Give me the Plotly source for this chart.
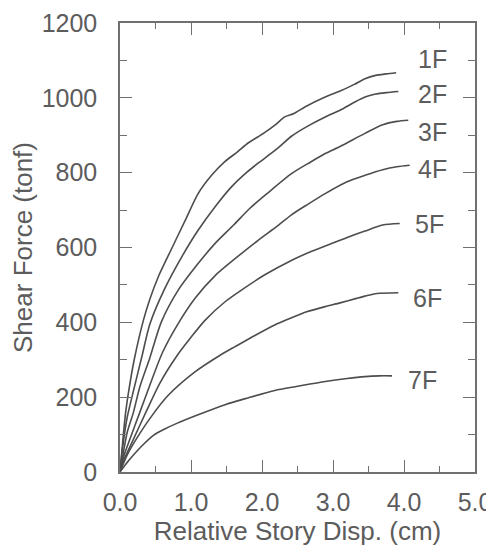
import plotly.graph_objects as go

# Relative story displacement (cm) and shear force (tonf) per floor
floors = ["1F", "2F", "3F", "4F", "5F", "6F", "7F"]

disp_1f = [0, 0.04, 0.08, 0.13, 0.2, 0.33, 0.42, 0.54, 0.73, 0.92, 1.1, 1.29, 1.48, 1.65, 1.81,
           2.02, 2.2, 2.32, 2.45, 2.61, 2.89, 3.1, 3.3, 3.45, 3.6, 3.75, 3.89]
force_1f = [0, 85, 160, 225, 300, 406, 462, 522, 598, 673, 744, 793, 830, 855, 880,
            905, 930, 949, 958, 976, 1002, 1018, 1036, 1051, 1060, 1064, 1067]

disp_2f = [0, 0.04, 0.1, 0.2, 0.31, 0.42, 0.63, 0.87, 1.1, 1.34, 1.57, 1.78, 1.95, 2.2, 2.42,
           2.65, 2.89, 3.1, 3.3, 3.45, 3.6, 3.75, 3.92]
force_2f = [0, 70, 145, 225, 310, 395, 490, 575, 646, 709, 762, 800, 826, 862, 898,
            925, 949, 967, 988, 1002, 1010, 1014, 1017]

disp_3f = [0, 0.05, 0.1, 0.19, 0.28, 0.42, 0.58, 0.82, 1.1, 1.34, 1.6, 1.83, 2.07, 2.42, 2.68,
           2.89, 3.1, 3.45, 3.7, 3.9, 4.06]
force_3f = [0, 55, 105, 160, 228, 305, 400, 486, 557, 611, 660, 705, 744, 798, 828,
            851, 870, 905, 928, 937, 940]

disp_4f = [0, 0.05, 0.14, 0.28, 0.42, 0.6, 0.83, 1.06, 1.34, 1.62, 1.95, 2.2, 2.42, 2.65, 2.89,
           3.19, 3.45, 3.7, 3.9, 4.08]
force_4f = [0, 40, 88, 160, 232, 320, 400, 465, 525, 570, 620, 655, 688, 716, 744,
            775, 793, 808, 816, 820]

disp_5f = [0, 0.05, 0.19, 0.38, 0.56, 0.8, 1.0, 1.2, 1.48, 1.74, 2.04, 2.42, 2.7, 2.89, 3.2,
           3.45, 3.7, 3.94]
force_5f = [0, 30, 88, 166, 237, 310, 360, 406, 455, 490, 527, 566, 590, 604, 627,
            644, 660, 664]

disp_6f = [0, 0.1, 0.22, 0.41, 0.67, 1.06, 1.41, 1.62, 1.9, 2.18, 2.39, 2.63, 2.89, 3.1, 3.33,
           3.45, 3.62, 3.92]
force_6f = [0, 45, 85, 140, 203, 268, 312, 335, 365, 393, 410, 428, 442, 452, 464,
            470, 477, 479]

disp_7f = [0, 0.12, 0.3, 0.47, 0.63, 0.8, 1.1, 1.48, 1.8, 2.18, 2.5, 2.89, 3.2, 3.45, 3.65, 3.83]
force_7f = [0, 30, 68, 98, 115, 130, 153, 180, 198, 218, 229, 242, 250, 255, 257, 257]

x_ticks = [0, 1, 2, 3, 4, 5]
y_ticks = [0, 200, 400, 600, 800, 1000, 1200]

series = [(disp_1f, force_1f), (disp_2f, force_2f), (disp_3f, force_3f), (disp_4f, force_4f),
          (disp_5f, force_5f), (disp_6f, force_6f), (disp_7f, force_7f)]

FONT = "Liberation Sans, Arial, sans-serif"
TXT = "#5c5c5c"
LINE = "#4d4d4d"
AX = "#707070"

fig = go.Figure()
for name, (xs, ys) in zip(floors, series):
    fig.add_trace(go.Scatter(x=xs, y=ys, mode="lines", name=name,
                             line=dict(color=LINE, width=1.6, shape="spline", smoothing=0.7),
                             showlegend=False))

label_pos = {"1F": (4.17, 1105), "2F": (4.17, 1011), "3F": (4.17, 909), "4F": (4.17, 811),
             "5F": (4.12, 664), "6F": (4.10, 464), "7F": (4.03, 246)}
for name in floors:
    lx, ly = label_pos[name]
    fig.add_annotation(x=lx, y=ly, text=name, showarrow=False, xanchor="left", yanchor="middle",
                       font=dict(family=FONT, size=25, color=TXT))

fig.update_xaxes(range=[0, 5], tickvals=x_ticks, tickformat=".1f", automargin=False,
                 showgrid=False, zeroline=False,
                 showline=True, linecolor=AX, linewidth=1.5, mirror="ticks",
                 ticks="inside", ticklen=12, tickcolor=AX, tickwidth=1.2, ticklabelstandoff=7,
                 minor=dict(dtick=0.5, ticks="inside", ticklen=6, tickcolor=AX, tickwidth=1.2, showgrid=False),
                 tickfont=dict(family=FONT, size=25, color=TXT),
                 title=dict(text="Relative Story Disp. (cm)", font=dict(family=FONT, size=26, color=TXT), standoff=4))
fig.update_yaxes(range=[0, 1200], tickvals=y_ticks, automargin=False,
                 showgrid=False, zeroline=False,
                 showline=True, linecolor=AX, linewidth=1.5, mirror="ticks",
                 ticks="inside", ticklen=12, tickcolor=AX, tickwidth=1.2, ticklabelstandoff=16,
                 minor=dict(dtick=100, ticks="inside", ticklen=7, tickcolor=AX, tickwidth=1.2, showgrid=False),
                 tickfont=dict(family=FONT, size=25, color=TXT),
                 title=dict(text="Shear Force (tonf)", font=dict(family=FONT, size=26, color=TXT), standoff=5))

# page body adds an 8px offset, so the figure is 8px smaller on each axis
fig.update_layout(width=486, height=538, margin=dict(l=112, r=19, t=15, b=74),
                  plot_bgcolor="white", paper_bgcolor="white")

fig.write_html("out.html")
